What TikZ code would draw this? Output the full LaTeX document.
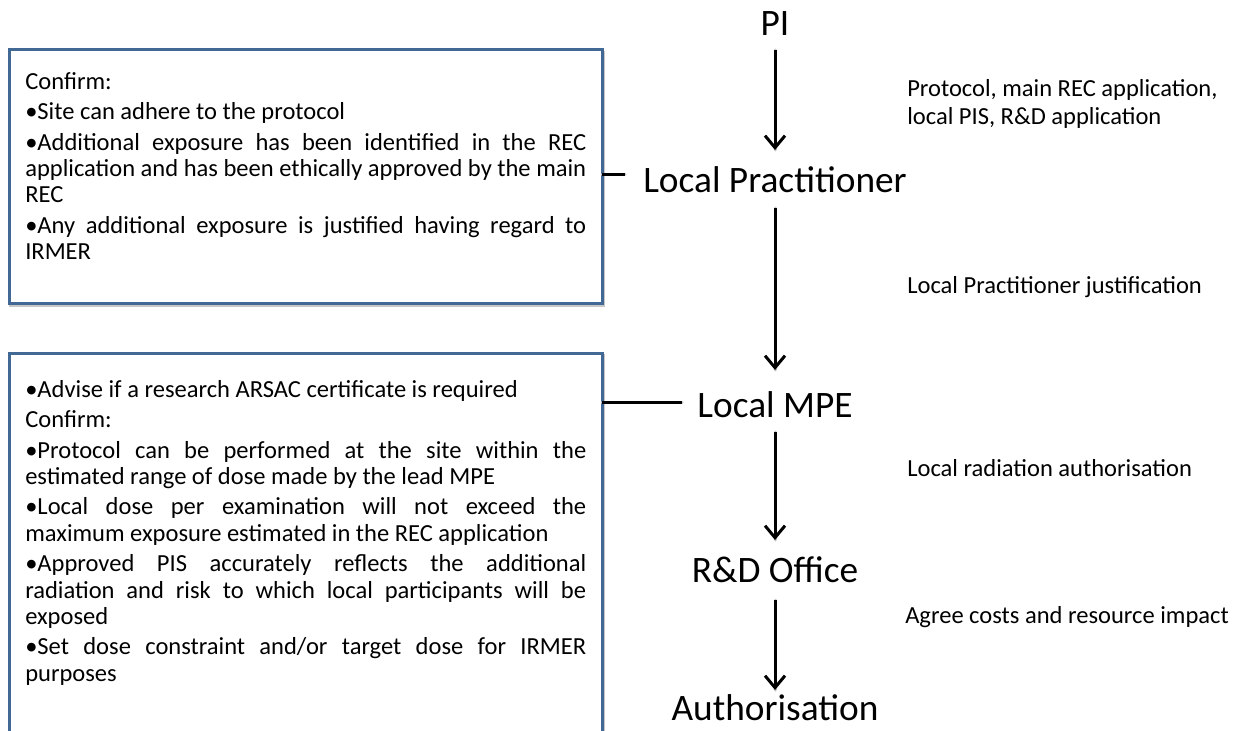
\documentclass[tikz,border=0pt]{standalone}
\usepackage{fontspec}
\setmainfont{Carlito}
\usetikzlibrary{arrows.meta}
\definecolor{boxblue}{RGB}{66,104,150}
\newcommand{\pxu}{0.75pt}
\newcommand{\bodyfont}{\fontsize{18.4pt}{19.8pt}\selectfont\hyphenpenalty=10000\exhyphenpenalty=10000\lineskiplimit=-20pt}
\tikzset{
  x=0.75pt, y=-0.75pt,
  frame/.style={draw=boxblue, line width=3*\pxu, fill=white},
  boxtext/.style={anchor=north west, inner sep=0pt, text width=561*\pxu, align=justify,
    font=\bodyfont},
  stage/.style={inner sep=0pt, font=\fontsize{28pt}{33pt}\selectfont},
  note/.style={anchor=west, inner sep=0pt, align=left,
    font=\fontsize{18.4pt}{20.4pt}\selectfont},
  flow/.style={line width=3*\pxu, -{Straight Barb[length=9pt,width=15pt,line width=3*\pxu]}},
  tie/.style={line width=3*\pxu},
  haze/.style={draw=black!22, line width=3*\pxu, line cap=round, shift={(1.5,2.5)}}
}
\newcommand{\gap}{\par\vspace{3pt}}
\begin{document}
\begin{tikzpicture}
\useasboundingbox (0,0) rectangle (1245,731);
\clip (0,0) rectangle (1245,731);

% check-list frames, with a soft drop shadow
\draw[haze] (9,50) rectangle (602,303);
\draw[haze] (9,353) rectangle (602,760);
\draw[frame] (9,50) rectangle (602,303);
\draw[frame] (9,353) rectangle (602,760);
\coordinate (f1) at (602,175);
\coordinate (f2) at (602,402);

\node[boxtext] (t1) at (25,72) {Confirm:\gap
\textbullet Site can adhere to the protocol\gap
\textbullet Additional exposure has been identified in the REC application and has been ethically approved by the main REC\gap
\textbullet Any additional exposure is justified having regard to IRMER};

\node[boxtext] (t2) at (25,380) {\textbullet Advise if a research ARSAC certificate is required\gap
Confirm:\gap
\textbullet Protocol can be performed at the site within the estimated range of dose made by the lead MPE\gap
\textbullet Local dose per examination will not exceed the maximum exposure estimated in the REC application\gap
\textbullet Approved PIS accurately reflects the additional\linebreak radiation and risk to which local participants will be\linebreak exposed\gap
\textbullet Set dose constraint and/or target dose for IRMER purposes};

% stages
\node[stage] (pi)  at (775,24)  {PI};
\node[stage] (lp)  at (775,180) {Local Practitioner};
\node[stage] (mpe) at (775,405) {Local MPE};
\node[stage] (rd)  at (775,570) {R\&D Office};
\node[stage] (au)  at (775,708) {Authorisation};

\coordinate (a1s) at (775,50);  \coordinate (a1e) at (775,150);
\coordinate (a2s) at (775,208); \coordinate (a2e) at (775,370);
\coordinate (a3s) at (775,432); \coordinate (a3e) at (775,540);
\coordinate (a4s) at (775,600); \coordinate (a4e) at (775,690);
\foreach \s/\e in {a1s/a1e, a2s/a2e, a3s/a3e, a4s/a4e}{
  \draw[haze] (\s) -- (\e);
  \draw[flow] (\s) -- (\e);
}

% ties from the frames to their stages
\coordinate (g1) at (625,175);
\coordinate (g2) at (682,402);
\draw[haze] (f1) -- (g1);
\draw[haze] (f2) -- (g2);
\draw[tie] (f1) -- (g1);
\draw[tie] (f2) -- (g2);

% notes
\node[note] (n1) at (907,104) {Protocol, main REC application,\\local PIS, R\&D application};
\node[note] (n2) at (907,287) {Local Practitioner justification};
\node[note] (n3) at (907,468) {Local radiation authorisation};
\node[note] (n4) at (905,617) {Agree costs and resource impact};
\end{tikzpicture}
\end{document}
